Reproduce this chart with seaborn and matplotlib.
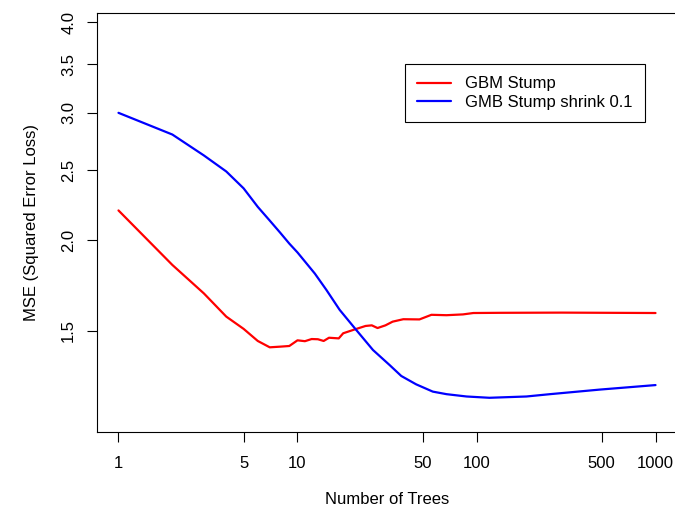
import pandas as pd
import matplotlib.pyplot as plt
import seaborn as sns

# (log x, log y)
trees_gbm = [1, 2, 3, 4, 5, 6, 7, 8, 9, 10, 11, 12, 13, 14, 15, 17, 18, 21, 24,
             26, 28, 31, 34, 39, 48, 56, 68, 84, 96, 135, 300, 1000]
mse_gbm = [2.20, 1.85, 1.69, 1.57, 1.51, 1.453, 1.424, 1.427, 1.430, 1.456,
           1.452, 1.462, 1.461, 1.453, 1.468, 1.465, 1.489, 1.508, 1.524,
           1.527, 1.514, 1.527, 1.545, 1.557, 1.556, 1.579, 1.577, 1.581,
           1.588, 1.589, 1.590, 1.588]

trees_shrink = [1, 2, 3, 4, 5, 6, 7, 8, 9, 10, 12.5, 14.5, 17.2, 20.9, 26.4,
                32.7, 38, 46, 57, 68, 88, 118, 190, 257, 488, 1000]
mse_shrink = [3.00, 2.80, 2.62, 2.49, 2.36, 2.225, 2.13, 2.05, 1.98, 1.925,
              1.80, 1.709, 1.604, 1.513, 1.412, 1.346, 1.300, 1.266, 1.237,
              1.227, 1.218, 1.213, 1.218, 1.227, 1.245, 1.263]

labels = ['GBM Stump', 'GMB Stump shrink 0.1']
colors = ['red', 'blue']

df = pd.concat([
    pd.DataFrame({'trees': trees_gbm, 'mse': mse_gbm, 'model': labels[0]}),
    pd.DataFrame({'trees': trees_shrink, 'mse': mse_shrink, 'model': labels[1]}),
])

sns.set_style('ticks')
plt.rcParams['font.family'] = ['Liberation Sans', 'DejaVu Sans']
plt.rcParams['text.color'] = 'black'
plt.rcParams['axes.labelcolor'] = 'black'
plt.rcParams['xtick.color'] = 'black'
plt.rcParams['ytick.color'] = 'black'

fig = plt.figure(figsize=(6.75, 5.12), dpi=100)
ax = fig.add_axes([97 / 675, 1 - 432.3 / 512, 580 / 675, 419 / 512])

sns.lineplot(data=df, x='trees', y='mse', hue='model', palette=dict(zip(labels, colors)),
             estimator=None, linewidth=1.6, ax=ax, legend=False)

ax.set_xscale('log')
ax.set_yscale('log')
ax.set_xlim(10 ** -0.12, 10 ** 3.12)
ax.set_ylim(1.087, 4.116)

xt = [1, 5, 10, 50, 100, 500, 1000]
ax.set_xticks(xt)
ax.set_xticklabels([str(t) for t in xt])
yt = [1.5, 2.0, 2.5, 3.0, 3.5, 4.0]
ax.set_yticks(yt)
ax.set_yticklabels(['%.1f' % t for t in yt], rotation=90, va='center')
ax.minorticks_off()
ax.tick_params(axis='both', length=7, width=0.8, labelsize=12)
ax.tick_params(axis='x', pad=10)
ax.tick_params(axis='y', pad=8)

for s in ax.spines.values():
    s.set_visible(True)
    s.set_color('black')
    s.set_linewidth(0.8)
ax.spines['right'].set_visible(False)

ax.set_xlabel('Number of Trees', fontsize=12, labelpad=15)
ax.set_ylabel('MSE (Squared Error Loss)', fontsize=12, labelpad=16)

handles = [plt.Line2D([], [], color=c, linewidth=1.6) for c in colors]
leg = ax.legend(handles, labels, loc='upper left', bbox_to_anchor=(0.531, 0.879),
                borderaxespad=0, fancybox=False, framealpha=1, edgecolor='black',
                fontsize=12, handlelength=2.0, handletextpad=0.85,
                labelspacing=0.2, borderpad=0.75)
leg.get_frame().set_linewidth(0.8)

fig.savefig('out.png', dpi=100)
